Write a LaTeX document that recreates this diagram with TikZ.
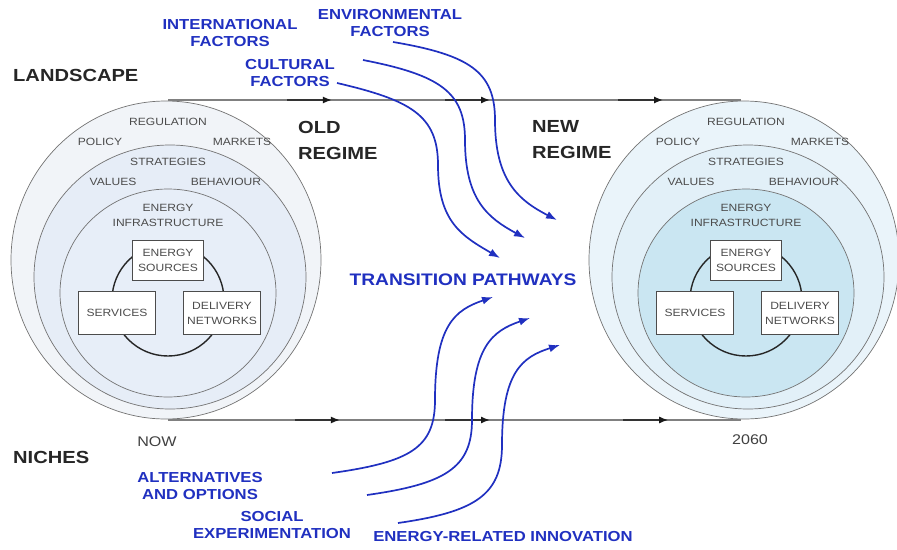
\documentclass[tikz,border=0pt]{standalone}
\usepackage{fontspec}
\setmainfont[FakeStretch=1.15]{Liberation Sans}
\usetikzlibrary{arrows.meta,decorations.markings}
\definecolor{pathblue}{RGB}{32,48,192}
\definecolor{oldouter}{HTML}{F1F4F8}
\definecolor{oldmid}{HTML}{E6EDF7}
\definecolor{oldinner}{HTML}{E7EEF8}
\definecolor{newouter}{HTML}{EAF4FA}
\definecolor{newmid}{HTML}{E2F0F8}
\definecolor{newinner}{HTML}{CAE6F2}
\newcommand{\timetip}{\draw[black!80,line width=1.5pt] (-45pt,0) -- (-5pt,0); \arrow[black!90]{Latex[length=9pt,width=7pt]}}

\begin{document}
\begin{tikzpicture}[x=1pt,y=-1pt]
\tikzstyle{ring}=[draw=black!55,line width=0.7pt]
\tikzstyle{tag}=[font=\fontsize{10.5}{15}\selectfont,text=black!70,align=center,inner sep=0pt]
\tikzstyle{unit}=[draw=black!70,fill=white,line width=0.8pt,font=\fontsize{10.5}{15}\selectfont,text=black!70,align=center,minimum width=77pt,minimum height=43pt,inner sep=1pt]
\tikzstyle{loop}=[circle,draw=black!85,line width=1.4pt,minimum size=112pt,inner sep=0pt]
\tikzstyle{stage}=[font=\bfseries\fontsize{17.5}{26}\selectfont,text=black!85,align=left,inner sep=0pt,anchor=west]
\tikzstyle{factor}=[font=\bfseries\fontsize{14.5}{17}\selectfont,text=pathblue,align=center,inner sep=0pt]
\tikzstyle{pathway}=[draw=pathblue,line width=1.7pt,-{Latex[length=11pt,width=8pt]}]
\tikzstyle{time}=[draw=black!50,line width=1.5pt,postaction={decorate}]
\useasboundingbox (0,0) rectangle (897,549);
\foreach \dx/\nm/\fa/\fb/\fc in {0/old/oldouter/oldmid/oldinner,578/new/newouter/newmid/newinner}{
\begin{scope}[xshift=\dx pt]
\draw[ring,fill=\fa] (166,260) ellipse [x radius=155,y radius=159];
\draw[ring,fill=\fb] (170,277) ellipse [x radius=136,y radius=132];
\draw[ring,fill=\fc] (168,293) ellipse [x radius=108,y radius=104];
\node[tag] (\nm-reg) at (168,122) {REGULATION};
\node[tag] (\nm-pol) at (100,142) {POLICY};
\node[tag] (\nm-mkt) at (242,142) {MARKETS};
\node[tag] (\nm-str) at (168,162) {STRATEGIES};
\node[tag] (\nm-val) at (113,182) {VALUES};
\node[tag] (\nm-beh) at (226,182) {BEHAVIOUR};
\node[tag] (\nm-inf) at (168,215) {ENERGY\\INFRASTRUCTURE};
\node[loop] (\nm-loop) at (168,300) {};
\node[unit,minimum width=71pt,minimum height=40pt] (\nm-src) at (168,260) {ENERGY\\SOURCES};
\node[unit] (\nm-svc) at (117,313) {SERVICES};
\node[unit] (\nm-net) at (222,313) {DELIVERY\\NETWORKS};
\end{scope}
}
\coordinate (oldtop) at (168,100);
\coordinate (newtop) at (741,100);
\coordinate (oldbot) at (168,420);
\coordinate (newbot) at (741,420);
\draw[time,decoration={markings,
  mark=at position 0.286 with {\timetip},
  mark=at position 0.562 with {\timetip},
  mark=at position 0.864 with {\timetip}}] (oldtop) -- (newtop);
\draw[time,decoration={markings,
  mark=at position 0.300 with {\timetip},
  mark=at position 0.562 with {\timetip},
  mark=at position 0.873 with {\timetip}}] (oldbot) -- (newbot);
\node[stage] (land) at (13,75) {LANDSCAPE};
\node[stage] (niche) at (13,457) {NICHES};
\node[stage] (oldreg) at (298,140) {OLD\\REGIME};
\node[stage] (newreg) at (532,140) {NEW\\REGIME};
\node[font=\fontsize{14}{16}\selectfont,text=black!75] (now) at (157,442) {NOW};
\node[font=\fontsize{14}{16}\selectfont,text=black!75] (year) at (750,440) {2060};
\node[factor] (intl) at (230,33) {INTERNATIONAL\\FACTORS};
\node[factor] (cult) at (290,73) {CULTURAL\\FACTORS};
\node[factor] (env) at (390,23) {ENVIRONMENTAL\\FACTORS};
\node[factor,font=\bfseries\fontsize{16.7}{20}\selectfont] (trans) at (463,280) {TRANSITION PATHWAYS};
\node[factor] (alt) at (200,486) {ALTERNATIVES\\AND OPTIONS};
\node[factor] (soc) at (272,525) {SOCIAL\\EXPERIMENTATION};
\node[factor] (inno) at (503,537) {ENERGY-RELATED INNOVATION};
\coordinate (top1) at (337,83);
\coordinate (top2) at (363,60);
\coordinate (top3) at (393,42);
\coordinate (in1) at (500,258);
\coordinate (in2) at (525,238);
\coordinate (in3) at (557,220);
\coordinate (low1) at (332,473);
\coordinate (low2) at (367,495);
\coordinate (low3) at (398,523);
\coordinate (up1) at (493,297);
\coordinate (up2) at (530,318);
\coordinate (up3) at (560,345);
\draw[pathway] (top1) .. controls (410,100) and (438,115) .. (438,165) .. controls (438,222) and (462,236) .. (in1);
\draw[pathway] (top2) .. controls (440,75) and (465,92) .. (465,140) .. controls (465,200) and (488,218) .. (in2);
\draw[pathway] (top3) .. controls (470,55) and (495,72) .. (495,120) .. controls (495,180) and (518,200) .. (in3);
\draw[pathway] (low1) .. controls (410,462) and (435,448) .. (435,400) .. controls (435,325) and (455,310) .. (up1);
\draw[pathway] (low2) .. controls (445,484) and (472,468) .. (472,420) .. controls (472,347) and (492,331) .. (up2);
\draw[pathway] (low3) .. controls (475,512) and (502,495) .. (502,445) .. controls (502,372) and (522,357) .. (up3);
\end{tikzpicture}
\end{document}
